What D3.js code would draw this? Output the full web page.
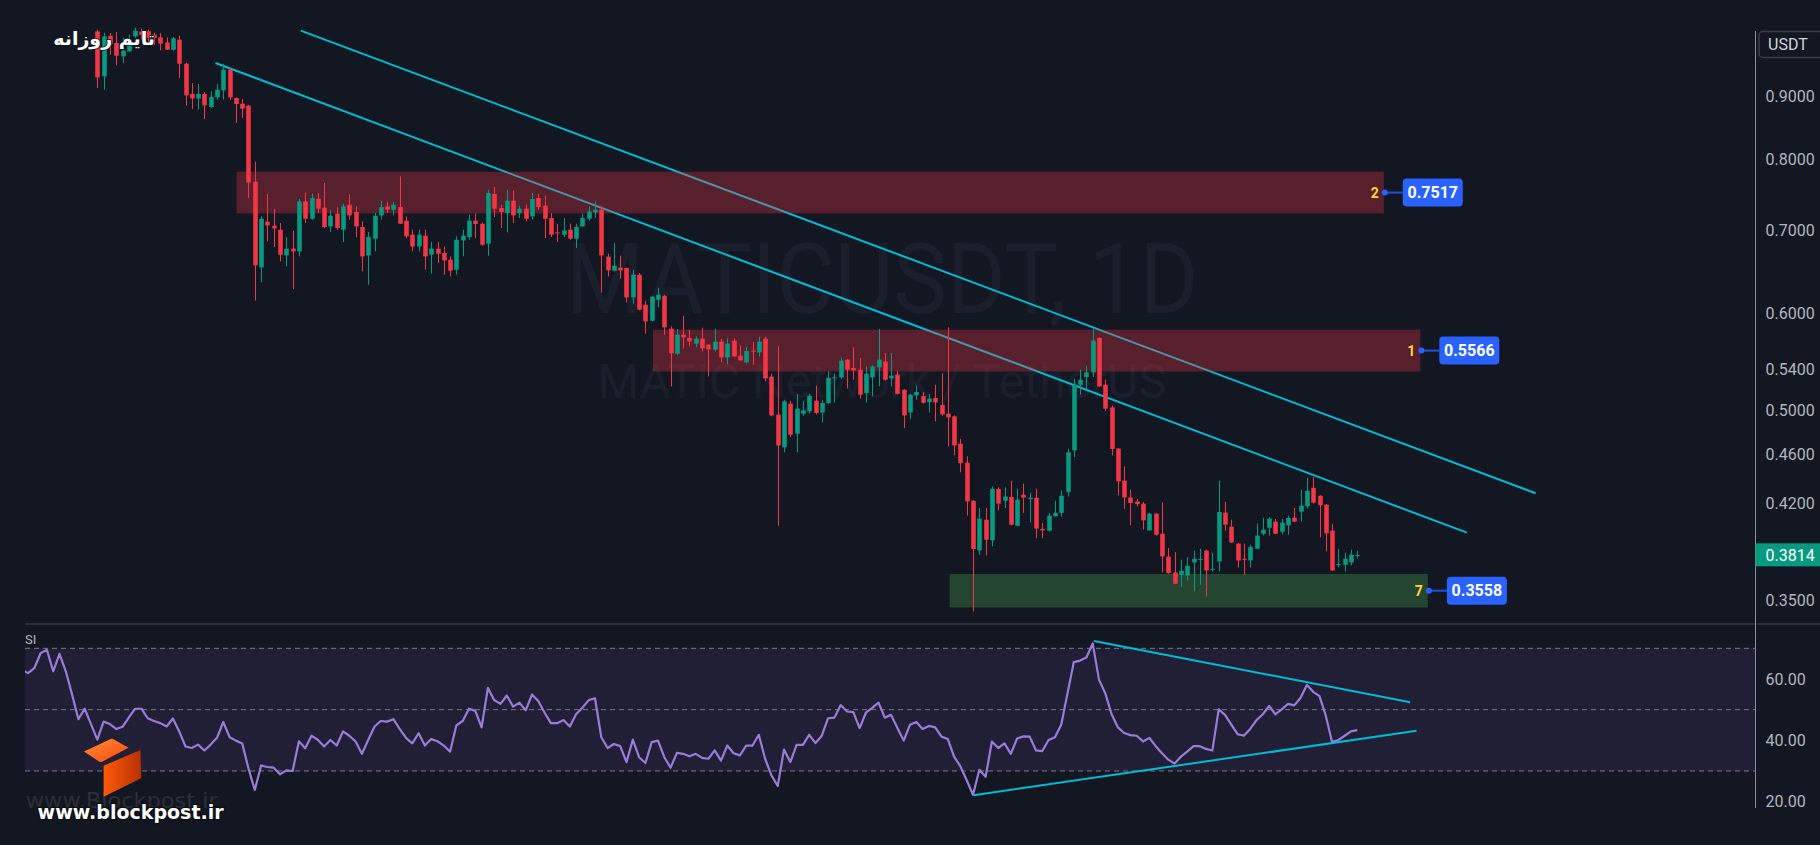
<!DOCTYPE html>
<html><head><meta charset="utf-8">
<script src="https://cdn.jsdelivr.net/npm/d3@7"></script>
<style>
html,body{margin:0;padding:0;background:#131722;overflow:hidden;}
svg{display:block;}
</style></head><body>
<svg id="chart" width="1820" height="845"></svg>
<script>
// ---- DATA (daily MATIC/USDT candles, index 0..200) ----
const ohlc = [
[1.0172,1.0204,0.9148,0.9331],[0.9349,1.0147,0.9119,1.0077],[1.0090,1.0141,0.9738,0.9940],[0.9953,1.0160,0.9544,0.9719],
[0.9706,1.0052,0.9587,0.9811],[0.9798,1.0109,0.9792,1.0014],[1.0077,1.0242,1.0052,1.0185],[1.0166,1.0223,1.0014,1.0109],
[1.0176,1.0204,0.9977,1.0046],[1.0109,1.0147,0.9921,1.0046],[1.0058,1.0141,0.9816,0.9940],[0.9964,1.0058,0.9824,0.9829],
[0.9829,1.0065,0.9811,1.0039],[1.0014,1.0090,0.9321,0.9574],[0.9574,0.9590,0.8855,0.9023],[0.9046,0.9234,0.8795,0.8972],
[0.8967,0.9217,0.8783,0.9046],[0.9046,0.9080,0.8631,0.8855],[0.8828,0.9090,0.8811,0.8995],[0.8989,0.9222,0.8950,0.9119],
[0.9107,0.9574,0.8950,0.9467],[0.9467,0.9497,0.8950,0.8989],[0.8978,0.8989,0.8567,0.8878],[0.8883,0.8962,0.8648,0.8800],
[0.8850,0.8860,0.7444,0.7664],[0.7674,0.7968,0.6144,0.6561],[0.6536,0.7192,0.6355,0.7160],[0.7120,0.7500,0.6862,0.7071],
[0.7067,0.7292,0.6791,0.7031],[0.7014,0.7103,0.6610,0.6694],[0.6685,0.6919,0.6548,0.6769],[0.6769,0.7001,0.6276,0.6735],
[0.6735,0.7430,0.6672,0.7397],[0.7397,0.7522,0.7103,0.7160],[0.7160,0.7504,0.7147,0.7444],[0.7434,0.7514,0.7237,0.7296],
[0.7310,0.7656,0.7037,0.7050],[0.7058,0.7282,0.6984,0.7201],[0.7228,0.7314,0.7014,0.7037],[0.7014,0.7365,0.6855,0.7328],
[0.7351,0.7500,0.7147,0.7205],[0.7251,0.7328,0.6914,0.7058],[0.7050,0.7124,0.6487,0.6672],[0.6685,0.6984,0.6327,0.6919],
[0.6897,0.7237,0.6735,0.7201],[0.7205,0.7406,0.7147,0.7319],[0.7328,0.7392,0.7237,0.7282],[0.7282,0.7388,0.7205,0.7351],
[0.7319,0.7751,0.7090,0.7094],[0.7134,0.7192,0.6906,0.6927],[0.6949,0.7014,0.6735,0.6798],[0.6798,0.7014,0.6735,0.6949],
[0.6936,0.7014,0.6508,0.6672],[0.6694,0.6855,0.6460,0.6769],[0.6769,0.6855,0.6590,0.6706],[0.6715,0.6798,0.6448,0.6622],
[0.6631,0.6672,0.6427,0.6496],[0.6508,0.6927,0.6448,0.6884],[0.6875,0.7014,0.6672,0.6936],[0.6919,0.7215,0.6884,0.7134],
[0.7134,0.7228,0.6906,0.7090],[0.7094,0.7111,0.6807,0.6820],[0.6833,0.7560,0.6681,0.7514],[0.7500,0.7599,0.7183,0.7296],
[0.7305,0.7351,0.7037,0.7251],[0.7237,0.7560,0.6979,0.7406],[0.7406,0.7546,0.7103,0.7205],[0.7237,0.7337,0.7170,0.7296],
[0.7296,0.7351,0.7124,0.7160],[0.7192,0.7514,0.7147,0.7430],[0.7444,0.7500,0.7282,0.7319],[0.7337,0.7476,0.6906,0.7160],
[0.7170,0.7237,0.6919,0.6949],[0.6979,0.7090,0.6855,0.6966],[0.6949,0.7170,0.6919,0.7005],[0.7014,0.7094,0.6884,0.6897],
[0.6897,0.7094,0.6778,0.7050],[0.7058,0.7228,0.7050,0.7170],[0.7160,0.7328,0.7134,0.7259],[0.7245,0.7397,0.7170,0.7282],
[0.7282,0.7328,0.6237,0.6685],[0.6669,0.6706,0.6427,0.6500],[0.6496,0.6841,0.6487,0.6557],[0.6533,0.6681,0.6399,0.6500],
[0.6529,0.6535,0.6121,0.6179],[0.6179,0.6508,0.6106,0.6448],[0.6448,0.6468,0.6030,0.6038],[0.6095,0.6140,0.5773,0.5907],
[0.5915,0.6198,0.5907,0.6187],[0.6152,0.6292,0.6064,0.6210],[0.6198,0.6210,0.5762,0.5841],[0.5827,0.5852,0.5230,0.5564],
[0.5560,0.5824,0.5550,0.5762],[0.5762,0.5970,0.5613,0.5733],[0.5726,0.5816,0.5637,0.5690],[0.5666,0.5744,0.5626,0.5719],
[0.5719,0.5838,0.5584,0.5616],[0.5655,0.5660,0.5329,0.5605],[0.5602,0.5827,0.5584,0.5687],[0.5687,0.5716,0.5470,0.5522],
[0.5522,0.5722,0.5450,0.5666],[0.5698,0.5722,0.5526,0.5532],[0.5540,0.5647,0.5488,0.5491],[0.5470,0.5630,0.5460,0.5588],
[0.5591,0.5684,0.5447,0.5584],[0.5574,0.5740,0.5532,0.5687],[0.5719,0.5740,0.5280,0.5309],[0.5326,0.5356,0.4944,0.4953],
[0.4960,0.5637,0.4028,0.4682],[0.4665,0.5101,0.4622,0.5085],[0.5063,0.5091,0.4759,0.4777],[0.4786,0.5156,0.4622,0.5016],
[0.4969,0.5091,0.4950,0.5000],[0.4990,0.5158,0.4969,0.5139],[0.5091,0.5236,0.4962,0.4975],[0.4981,0.5101,0.4888,0.5069],
[0.5069,0.5379,0.5060,0.5313],[0.5309,0.5356,0.5075,0.5319],[0.5319,0.5519,0.5306,0.5488],[0.5498,0.5505,0.5209,0.5396],
[0.5413,0.5626,0.5296,0.5389],[0.5396,0.5516,0.5111,0.5149],[0.5165,0.5430,0.5075,0.5356],[0.5319,0.5440,0.5133,0.5427],
[0.5419,0.5824,0.5230,0.5498],[0.5480,0.5568,0.5286,0.5296],[0.5309,0.5568,0.5230,0.5336],[0.5346,0.5386,0.5149,0.5158],
[0.5197,0.5200,0.4837,0.4953],[0.4981,0.5158,0.4919,0.5149],[0.5142,0.5236,0.5101,0.5175],[0.5136,0.5175,0.5063,0.5072],
[0.5079,0.5156,0.4981,0.5111],[0.5117,0.5246,0.4897,0.5075],[0.5050,0.5359,0.4950,0.4962],[0.4969,0.5841,0.4674,0.4934],
[0.4944,0.4953,0.4596,0.4682],[0.4697,0.4741,0.4452,0.4530],[0.4533,0.4587,0.4105,0.4216],[0.4221,0.4225,0.3430,0.3856],
[0.3846,0.4164,0.3815,0.4082],[0.4074,0.4164,0.3810,0.3924],[0.3919,0.4336,0.3875,0.4317],[0.4315,0.4328,0.4146,0.4198],
[0.4221,0.4328,0.4164,0.4255],[0.4251,0.4383,0.4031,0.4036],[0.4028,0.4317,0.4023,0.4229],[0.4269,0.4358,0.4126,0.4247],
[0.4235,0.4283,0.4053,0.4245],[0.4245,0.4317,0.3934,0.4006],[0.4003,0.4049,0.3934,0.3993],[0.3991,0.4126,0.3985,0.4105],
[0.4100,0.4221,0.4098,0.4126],[0.4126,0.4303,0.4098,0.4261],[0.4291,0.4651,0.4255,0.4622],[0.4639,0.5306,0.4581,0.5246],
[0.5246,0.5396,0.5149,0.5296],[0.5323,0.5430,0.5204,0.5369],[0.5369,0.5824,0.5323,0.5698],[0.5726,0.5737,0.5224,0.5230],
[0.5246,0.5296,0.4997,0.5016],[0.5028,0.5044,0.4596,0.4651],[0.4654,0.4660,0.4263,0.4377],[0.4383,0.4502,0.4157,0.4247],
[0.4247,0.4309,0.4031,0.4203],[0.4215,0.4235,0.4177,0.4195],[0.4198,0.4211,0.3998,0.4069],[0.3993,0.4126,0.3991,0.4120],
[0.4120,0.4126,0.3955,0.3961],[0.3968,0.4208,0.3690,0.3803],[0.3801,0.3863,0.3681,0.3686],[0.3690,0.3834,0.3611,0.3613],
[0.3674,0.3779,0.3591,0.3702],[0.3670,0.3798,0.3635,0.3737],[0.3760,0.3844,0.3562,0.3786],[0.3783,0.3858,0.3606,0.3785],
[0.3844,0.3851,0.3528,0.3704],[0.3714,0.3829,0.3697,0.3716],[0.3767,0.4383,0.3697,0.4133],[0.4128,0.4213,0.3991,0.4036],
[0.4021,0.4074,0.3900,0.3904],[0.3895,0.3900,0.3725,0.3774],[0.3786,0.3895,0.3674,0.3781],[0.3774,0.3887,0.3725,0.3870],
[0.3858,0.4044,0.3855,0.3954],[0.3968,0.4089,0.3956,0.3998],[0.4013,0.4092,0.3954,0.4082],[0.4059,0.4079,0.3965,0.3968],
[0.3983,0.4079,0.3963,0.4051],[0.4031,0.4105,0.3961,0.4087],[0.4089,0.4166,0.4055,0.4059],[0.4136,0.4309,0.4061,0.4182],
[0.4177,0.4407,0.4159,0.4301],[0.4325,0.4413,0.4200,0.4206],[0.4261,0.4265,0.3941,0.4185],[0.4190,0.4195,0.3839,0.3971],
[0.3991,0.4044,0.3700,0.3704],[0.3744,0.3858,0.3725,0.3748],[0.3744,0.3829,0.3697,0.3786],[0.3760,0.3851,0.3739,0.3815],
[0.3813,0.3844,0.3786,0.3814]
];
// RSI(14) values, first value belongs to bar index rsiStart
const rsiStart = -12;
const rsi = [
63.0,61.9,63.5,68.4,69.5,62.5,68.2,62.5,54.9,46.9,50.3,45.3,
40.2,46.1,45.3,43.7,44.4,47.4,50.3,50.3,47.2,46.3,
45.6,44.5,47.1,42.9,38.0,37.5,38.6,36.7,38.6,40.8,
46.0,41.0,39.9,39.0,30.8,23.8,31.8,31.3,31.1,28.9,
30.2,30.0,39.7,37.4,41.5,40.2,38.0,40.1,38.3,42.9,
41.5,39.6,35.6,40.1,44.5,46.3,46.1,46.9,43.7,40.8,
39.0,42.3,38.3,40.4,39.7,38.3,36.3,44.9,46.3,50.3,
49.6,44.2,57.1,53.1,51.9,54.6,51.0,52.3,49.8,54.9,
52.8,49.0,45.6,45.6,46.6,44.5,48.5,50.6,53.1,53.7,
41.0,37.5,38.8,38.1,32.9,40.2,34.5,32.6,39.4,39.9,
34.5,31.1,35.9,35.6,34.8,35.6,34.3,34.0,36.7,33.4,
38.3,35.8,35.1,38.3,38.3,41.8,34.0,28.6,25.1,37.0,
32.9,38.5,38.5,41.8,39.1,41.5,47.2,47.4,51.5,49.4,
49.2,44.0,49.0,50.6,52.3,47.4,48.3,44.0,39.9,45.1,
46.0,43.7,44.7,44.2,41.2,40.4,34.7,31.5,27.0,22.2,
30.4,28.1,39.6,37.5,39.0,35.6,40.6,41.3,41.2,36.7,
36.5,40.1,41.0,45.1,55.3,65.5,66.0,67.0,71.6,59.8,
55.3,48.5,44.2,42.4,41.7,41.5,39.6,40.8,38.1,35.8,
33.7,32.4,34.7,36.3,38.1,38.1,37.2,36.7,50.1,48.3,
45.1,42.0,41.5,43.7,46.6,48.5,51.2,48.5,50.1,51.9,
51.4,53.9,58.0,55.8,54.4,48.0,39.4,40.1,41.5,42.9,
43.3
];
const priceTicks = [0.9, 0.8, 0.7, 0.6, 0.54, 0.5, 0.46, 0.42, 0.35];
const rsiTicks = [60, 40, 20];
const rsiLevels = [70, 50, 30];
// zones (bar index span, price top/bottom)
const zoneStart  = [22.1, 88.2, 135.3];
const zoneEnd    = [204.2, 210.0, 211.2];
const zoneTop    = [0.782, 0.5816, 0.368];
const zoneBottom = [0.7232, 0.5378, 0.3456];
const zoneNum    = ["2", "1", "7"];
const zoneLabel  = ["0.7517", "0.5566", "0.3558"];
const zoneKind   = ["supply", "supply", "demand"];
// trend lines [barIndex, value]
const priceTrendA = [[32.3, 1.0187], [228.3, 0.4281]];
const priceTrendB = [[18.76, 0.9587], [217.4, 0.3976]];
const rsiTrendA = [[158.2, 72.4], [208.4, 52.4]];
const rsiTrendB = [[139.1, 22.1], [209.4, 43.1]];

// ---- DRAWING ----
const W = 1820, H = 845;
const PL = 25, PR = 1755.5, PB = 623.5, RT = 625;
const svg = d3.select('#chart');
const x = d3.scaleLinear().domain([0, 200]).range([97.3, 1357.3]);
const py = d3.scaleLog().domain([0.9, 0.35]).range([96.7, 600.7]);
const ry = d3.scaleLinear().domain([70, 30]).range([648.3, 771]);
const FONT = 'Roboto, "Liberation Sans", sans-serif';

const defs = svg.append('defs');
defs.append('clipPath').attr('id', 'cp').append('rect').attr('x', PL).attr('y', 0).attr('width', PR - PL).attr('height', PB);
defs.append('clipPath').attr('id', 'cr').append('rect').attr('x', PL).attr('y', RT).attr('width', PR - PL).attr('height', H - RT);
const g1 = defs.append('linearGradient').attr('id', 'lgTop').attr('x1', 0).attr('y1', 0).attr('x2', 1).attr('y2', 1);
g1.append('stop').attr('offset', 0).attr('stop-color', '#ff8a3d');
g1.append('stop').attr('offset', 1).attr('stop-color', '#ff4a0a');
const g2 = defs.append('linearGradient').attr('id', 'lgSide').attr('x1', 0).attr('y1', 0).attr('x2', 1).attr('y2', 0);
g2.append('stop').attr('offset', 0).attr('stop-color', '#ff5a0a');
g2.append('stop').attr('offset', 1).attr('stop-color', '#b83000');

svg.append('rect').attr('width', W).attr('height', H).attr('fill', '#131722');

// ---- price pane ----
const pg = svg.append('g').attr('clip-path', 'url(#cp)');
pg.append('text').attr('x', 882).attr('y', 313).attr('text-anchor', 'middle')
  .attr('font-family', FONT).attr('font-size', 98).attr('fill', '#1b1f2b')
  .attr('textLength', 633).attr('lengthAdjust', 'spacingAndGlyphs').text('MATICUSDT, 1D');
pg.append('text').attr('x', 882).attr('y', 398).attr('text-anchor', 'middle')
  .attr('font-family', FONT).attr('font-size', 48).attr('fill', '#1b1f2b')
  .attr('textLength', 569).attr('lengthAdjust', 'spacingAndGlyphs').text('MATIC Network / TetherUS');

const lineP = d3.line().x(d => x(d[0])).y(d => py(d[1]));
[priceTrendA, priceTrendB].forEach(t => pg.append('path').attr('d', lineP(t))
  .attr('fill', 'none').attr('stroke', '#00bcd4').attr('stroke-width', 2));

zoneStart.forEach((s, i) => {
  pg.append('rect').attr('x', x(s)).attr('y', py(zoneTop[i]))
    .attr('width', x(zoneEnd[i]) - x(s)).attr('height', py(zoneBottom[i]) - py(zoneTop[i]))
    .attr('fill', zoneKind[i] === 'supply' ? '#f23645' : '#4caf50')
    .attr('fill-opacity', zoneKind[i] === 'supply' ? 0.31 : 0.3);
});

const bw = 4.6;
const col = d => d[3] >= d[0] ? '#089981' : '#f23645';
const cg = pg.append('g');
cg.selectAll('line').data(ohlc).join('line')
  .attr('x1', (d, i) => Math.round(x(i)) + 0.5).attr('x2', (d, i) => Math.round(x(i)) + 0.5)
  .attr('y1', d => py(d[1])).attr('y2', d => py(d[2]))
  .attr('stroke', col).attr('stroke-width', 1);
cg.selectAll('rect').data(ohlc).join('rect')
  .attr('x', (d, i) => Math.round(x(i)) + 0.5 - bw / 2)
  .attr('y', d => py(Math.max(d[0], d[3])))
  .attr('width', bw)
  .attr('height', d => Math.max(1, py(Math.min(d[0], d[3])) - py(Math.max(d[0], d[3]))))
  .attr('fill', col);

// zone callouts
zoneStart.forEach((s, i) => {
  const ex = x(zoneEnd[i]);
  const cy = py(Math.sqrt(zoneTop[i] * zoneBottom[i]));
  svg.append('line').attr('x1', ex).attr('x2', ex + 19).attr('y1', cy).attr('y2', cy)
    .attr('stroke', '#2151d8').attr('stroke-width', 2);
  svg.append('circle').attr('cx', ex + 1).attr('cy', cy).attr('r', 3).attr('fill', '#2962ff');
  svg.append('rect').attr('x', ex + 19).attr('y', cy - 14).attr('width', 60).attr('height', 28)
    .attr('rx', 4).attr('fill', '#2962ff');
  svg.append('text').attr('x', ex + 49).attr('y', cy).attr('dy', '0.36em').attr('text-anchor', 'middle')
    .attr('font-family', FONT).attr('font-weight', 'bold').attr('font-size', 16).attr('fill', '#ffffff')
    .text(zoneLabel[i]);
  svg.append('text').attr('x', ex - 5).attr('y', cy).attr('dy', '0.36em').attr('text-anchor', 'end')
    .attr('font-family', FONT).attr('font-weight', 'bold').attr('font-size', 14).attr('fill', '#fdd835')
    .text(zoneNum[i]);
});

// ---- RSI pane ----
const rg = svg.append('g').attr('clip-path', 'url(#cr)');
rg.append('rect').attr('x', PL).attr('y', ry(70)).attr('width', PR - PL).attr('height', ry(30) - ry(70))
  .attr('fill', '#7e57c2').attr('fill-opacity', 0.13);
rsiLevels.forEach(v => rg.append('line').attr('x1', PL).attr('x2', PR).attr('y1', ry(v)).attr('y2', ry(v))
  .attr('stroke', '#787b86').attr('stroke-dasharray', '5,4').attr('stroke-width', 1));
const lineR = d3.line().x((d, i) => x(i + rsiStart)).y(d => ry(d));
rg.append('path').attr('d', lineR(rsi)).attr('fill', 'none').attr('stroke', '#9a7bd8')
  .attr('stroke-width', 2.2).attr('stroke-linejoin', 'round');
const lineRT = d3.line().x(d => x(d[0])).y(d => ry(d[1]));
[rsiTrendA, rsiTrendB].forEach(t => rg.append('path').attr('d', lineRT(t))
  .attr('fill', 'none').attr('stroke', '#00bcd4').attr('stroke-width', 2));
svg.append('text').attr('x', PL).attr('y', 644).attr('font-family', FONT).attr('font-size', 13)
  .attr('fill', '#b2b5be').text('SI');

// ---- separators & axes ----
svg.append('line').attr('x1', PL).attr('x2', W).attr('y1', 624).attr('y2', 624)
  .attr('stroke', '#363a45').attr('stroke-width', 1.5);
svg.append('line').attr('x1', PR).attr('x2', PR).attr('y1', 31).attr('y2', 808)
  .attr('stroke', '#8a8d96').attr('stroke-width', 1);

const pAxis = d3.axisRight(py).tickValues(priceTicks).tickFormat(d3.format('.4f')).tickSize(0).tickPadding(10);
const ag = svg.append('g').attr('transform', `translate(${PR},0)`).call(pAxis);
ag.select('.domain').remove();
ag.selectAll('text').attr('fill', '#b2b5be').attr('font-size', 16).attr('font-family', FONT);

const rAxis = d3.axisRight(ry).tickValues(rsiTicks).tickFormat(d3.format('.2f')).tickSize(0).tickPadding(10);
const rag = svg.append('g').attr('transform', `translate(${PR},0)`).call(rAxis);
rag.select('.domain').remove();
rag.selectAll('text').attr('fill', '#b2b5be').attr('font-size', 16).attr('font-family', FONT);

// USDT box
svg.append('rect').attr('x', 1759).attr('y', 31.5).attr('width', 70).attr('height', 26).attr('rx', 4)
  .attr('fill', '#131722').attr('stroke', '#3a3e49').attr('stroke-width', 1.5);
svg.append('text').attr('x', 1768).attr('y', 44.5).attr('dy', '0.36em').attr('font-family', FONT)
  .attr('font-size', 16).attr('fill', '#d1d4dc').text('USDT');

// last price badge
const last = ohlc[ohlc.length - 1][3];
svg.append('rect').attr('x', PR).attr('y', py(last) - 11.5).attr('width', W - PR).attr('height', 23)
  .attr('fill', '#089981');
svg.append('text').attr('x', PR + 10).attr('y', py(last)).attr('dy', '0.36em').attr('font-family', FONT)
  .attr('font-size', 16).attr('fill', '#ffffff').text(d3.format('.4f')(last));

// ---- branding ----
svg.append('text').attr('x', 25.7).attr('y', 808).attr('font-family', 'DejaVu Sans, sans-serif')
  .attr('font-size', 22).attr('fill', '#2b2e38').attr('textLength', 192).attr('lengthAdjust', 'spacingAndGlyphs')
  .text('www.Blockpost.ir');
svg.append('path').attr('d', 'M84,751.5 L110.7,739 Q112,738.5 113.5,739.2 L128.5,747.7 L102,761.7 Q100.5,762.4 99,761.6 Z')
  .attr('fill', 'url(#lgTop)');
svg.append('path').attr('d', 'M103.6,765.7 L140.4,750 L141.2,778.3 L103.6,796.7 Z').attr('fill', 'url(#lgSide)');
svg.append('text').attr('x', 37.6).attr('y', 819).attr('font-family', 'DejaVu Sans, sans-serif')
  .attr('font-weight', 'bold').attr('font-size', 20).attr('fill', '#ffffff')
  .attr('stroke', '#0b0d12').attr('stroke-width', 2.5).attr('paint-order', 'stroke')
  .attr('textLength', 186).attr('lengthAdjust', 'spacingAndGlyphs').text('www.blockpost.ir');

svg.append('text').attr('x', 155).attr('y', 45).attr('text-anchor', 'end')
  .attr('font-family', '"DejaVu Sans", sans-serif').attr('font-weight', 'bold').attr('font-size', 19)
  .attr('fill', '#ffffff').attr('stroke', '#131722').attr('stroke-width', 1.5).attr('paint-order', 'stroke')
  .text('تایم روزانه');
</script>
</body></html>
